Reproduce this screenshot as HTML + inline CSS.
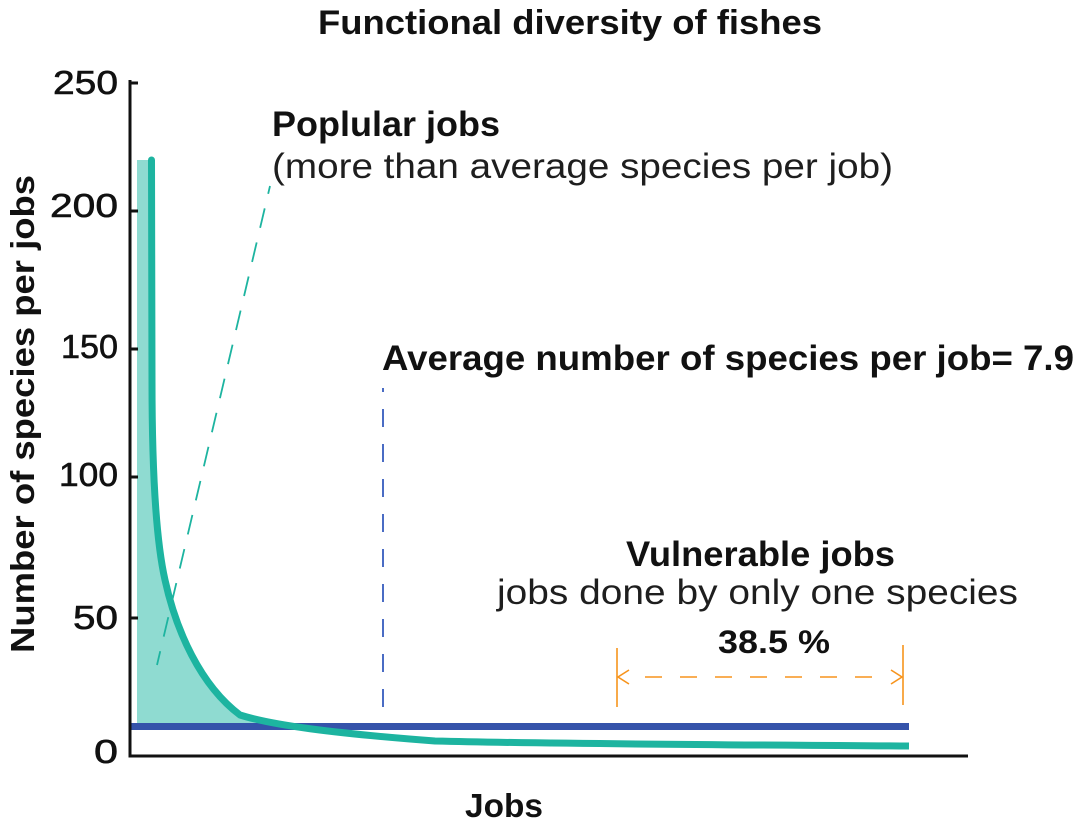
<!DOCTYPE html>
<html>
<head>
<meta charset="utf-8">
<style>
  html, body { margin: 0; padding: 0; background: #ffffff; }
  svg { display: block; }
  text { font-family: "Liberation Sans", sans-serif; fill: #111111; }
  .b { font-weight: bold; }
  .lt { fill: #1e1e1e; }
</style>
</head>
<body>
<svg width="1080" height="824" viewBox="0 0 1080 824" xmlns="http://www.w3.org/2000/svg">
  <rect width="1080" height="824" fill="#ffffff"/>

  <!-- Title -->
  <text class="b" x="318" y="34" font-size="34" textLength="504" lengthAdjust="spacingAndGlyphs">Functional diversity of fishes</text>

  <!-- Annotations -->
  <text class="b" x="272" y="136" font-size="35" textLength="228" lengthAdjust="spacingAndGlyphs">Poplular jobs</text>
  <text class="lt" x="272" y="178" font-size="35" textLength="621" lengthAdjust="spacingAndGlyphs">(more than average species per job)</text>

  <text class="b" x="382" y="370" font-size="35" textLength="692" lengthAdjust="spacingAndGlyphs">Average number of species per job= 7.9</text>

  <text class="b" x="626" y="566" font-size="35" textLength="269" lengthAdjust="spacingAndGlyphs">Vulnerable jobs</text>
  <text class="lt" x="497" y="604" font-size="35" textLength="521" lengthAdjust="spacingAndGlyphs">jobs done by only one species</text>

  <text class="b" x="718" y="653" font-size="32" textLength="112" lengthAdjust="spacingAndGlyphs">38.5 %</text>

  <!-- Y axis label -->
  <g transform="translate(34,414) rotate(-90)">
    <text class="b" x="0" y="0" font-size="33" text-anchor="middle" textLength="478" lengthAdjust="spacingAndGlyphs">Number of species per jobs</text>
  </g>

  <!-- X axis label -->
  <text class="b" x="465" y="817" font-size="33" textLength="78" lengthAdjust="spacingAndGlyphs">Jobs</text>

  <!-- Tick labels -->
  <g font-size="33" style="stroke:#111111;stroke-width:0.6px">
    <text x="118" y="94" text-anchor="end" textLength="65" lengthAdjust="spacingAndGlyphs">250</text>
    <text x="118" y="217" text-anchor="end" textLength="68" lengthAdjust="spacingAndGlyphs">200</text>
    <text x="118" y="358" text-anchor="end" textLength="57" lengthAdjust="spacingAndGlyphs">150</text>
    <text x="118" y="486" text-anchor="end" textLength="59" lengthAdjust="spacingAndGlyphs">100</text>
    <text x="118" y="629" text-anchor="end" textLength="45" lengthAdjust="spacingAndGlyphs">50</text>
    <text x="118" y="763" text-anchor="end" textLength="24" lengthAdjust="spacingAndGlyphs">0</text>
  </g>

  <!-- Light teal fill -->
  <path d="M137,160 L151,160 L152,380 C152,470 156,540 165,580 C176,630 200,685 240,715 C255,720 262,722 270,723 L137,723 Z" fill="#8fdbd1"/>

  <!-- Average horizontal line (blue) -->
  <rect x="131" y="723" width="778" height="7" fill="#3553aa"/>

  <!-- Main teal curve -->
  <path d="M151.5,160 L152,380 C152,470 156,540 165,580 C176,630 200,685 240,715 C272,725 330,733 435,741 C550,744 750,745 909,746"
        fill="none" stroke="#1db4a0" stroke-width="7" stroke-linejoin="round"/>
  <circle cx="151.5" cy="160" r="3.5" fill="#1db4a0"/>

  <!-- Teal dashed pointer -->
  <line x1="270" y1="186" x2="157" y2="665" stroke="#1db4a0" stroke-width="1.8" stroke-dasharray="20 15" stroke-dashoffset="12"/>

  <!-- Blue dashed vertical -->
  <line x1="383" y1="388" x2="383" y2="723" stroke="#4a6cc4" stroke-width="2" stroke-dasharray="18 17" stroke-dashoffset="14"/>

  <!-- Orange bracket -->
  <g stroke="#f7941d" stroke-width="1.6" fill="none">
    <line x1="617" y1="648" x2="617" y2="707"/>
    <line x1="903" y1="645" x2="903" y2="705"/>
    <polyline points="629,670 618,677 629,684"/>
    <polyline points="891,670 902,677 891,684"/>
    <line x1="645" y1="677" x2="876" y2="677" stroke-dasharray="17 18"/>
  </g>

  <!-- Axes -->
  <g stroke="#111111" stroke-width="3" fill="none">
    <line x1="130" y1="80" x2="130" y2="757.5"/>
    <line x1="128.5" y1="756" x2="968" y2="756"/>
    <line x1="130" y1="83" x2="138" y2="83"/>
    <line x1="130" y1="211" x2="138" y2="211"/>
    <line x1="130" y1="349" x2="138" y2="349"/>
    <line x1="130" y1="477" x2="138" y2="477"/>
    <line x1="130" y1="618" x2="138" y2="618"/>
  </g>
</svg>
</body>
</html>
